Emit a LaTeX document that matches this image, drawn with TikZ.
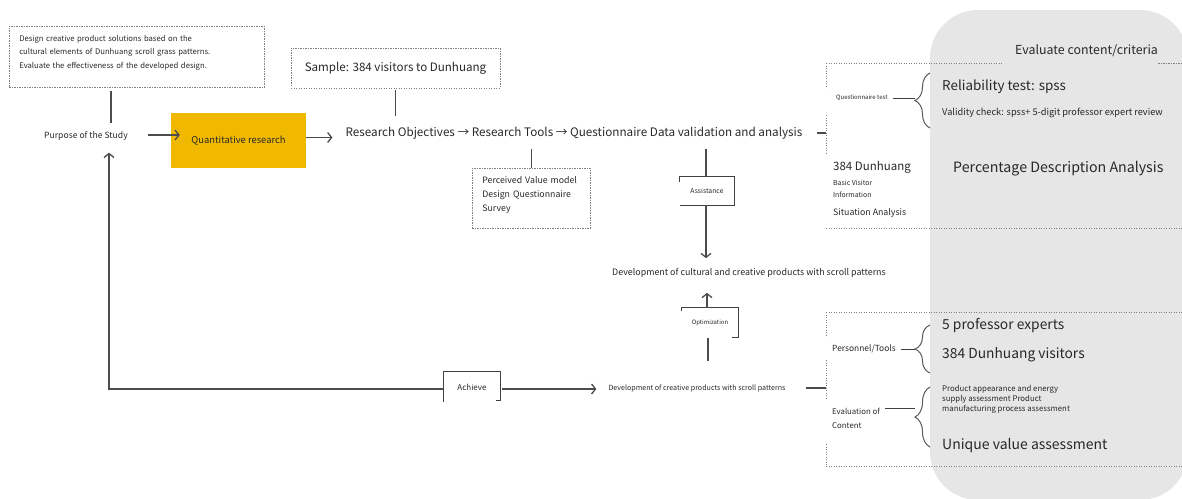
\documentclass[tikz,border=0pt]{standalone}
\usepackage{fontspec}
\setmainfont{Noto Sans CJK SC}
\usetikzlibrary{arrows.meta,calc,positioning,decorations.pathreplacing}
\definecolor{gold}{RGB}{240,185,0}
\definecolor{panel}{RGB}{230,230,230}
\definecolor{ink}{RGB}{40,40,40}
\newcommand{\fsz}[2]{\fontsize{#1}{#2}\selectfont}
\tikzset{
  >={Straight Barb[length=4pt,width=10pt]},
  dashbox/.style={draw=black!50, dash pattern=on 1.4pt off 1.1pt, line width=0.6pt},
  line/.style={draw=black!70, line width=1.3pt},
  edge/.style={draw=black!75, line width=0.9pt},
  brace/.style={draw=black!65, line width=1pt, decorate, decoration={brace,amplitude=15pt}},
  lbl/.style={text=ink, inner sep=0pt, align=left}
}

\begin{document}
\begin{tikzpicture}[x=1pt,y=-1pt]
    \useasboundingbox (0,0) rectangle (1182,498);
    % Grey panel
    \fill[panel, rounded corners=48pt] (930,10) rectangle (1188,500);

    % Left part
    \node[dashbox, lbl, anchor=north west, text width=235pt, minimum height=61pt,
          inner xsep=10pt, inner ysep=4pt, font=\fsz{7.7}{13.5}] (aim) at (9,26)
          {Design creative product solutions based on the\\
           cultural elements of Dunhuang scroll grass patterns.\\
           Evaluate the effectiveness of the developed design.\par\vspace{8pt}};
    \node[lbl, font=\fsz{8.6}{10}] (purpose) at (86,136) {Purpose of the Study};
    \node[fill=gold, minimum width=135pt, minimum height=55pt, inner sep=0pt,
          text=ink, font=\fsz{9.4}{11}] (quant) at (238.5,140.5) {Quantitative research};
    \node[dashbox, minimum width=209pt, minimum height=40pt, inner sep=0pt,
          text=ink, font=\fsz{11.6}{13}] (sample) at (395.5,68) {Sample: 384 visitors to Dunhuang};
    \node[lbl, font=\fsz{11.7}{13}] (goal) at (574,133)
          {Research Objectives → Research Tools → Questionnaire Data validation and analysis};
    \node[dashbox, lbl, anchor=north west, text width=98pt, minimum height=60pt,
          inner xsep=10pt, inner ysep=4pt, font=\fsz{8.8}{14}] (model) at (472,168)
          {Perceived Value model\\ Design Questionnaire\\Survey\par\vspace{6pt}};

    % Middle part
    \node[minimum width=54pt, minimum height=28pt, inner sep=0pt,
          text=ink, font=\fsz{6.8}{8}] (assist) at (707,191) {Assistance};
    \node[lbl, font=\fsz{8.9}{10}] (devcult) at (749,273)
          {Development of cultural and creative products with scroll patterns};
    \node[minimum width=56pt, minimum height=29pt, inner sep=0pt,
          text=ink, font=\fsz{6}{7}] (optim) at (710,322.5) {Optimization};
    \node[lbl, font=\fsz{7.1}{8}] (devcre) at (697,388)
          {Development of creative products with scroll patterns};
    \node[minimum width=57pt, minimum height=30pt, inner sep=0pt,
          text=ink, font=\fsz{8}{9}] (achieve) at (472,387) {Achieve};

    % Open box outlines
    \draw[edge] ([yshift=-5pt]assist.north west) |- (assist.north east) |- (assist.south west);
    \draw[edge] ([yshift=-3pt]optim.north west) |- (optim.north east) |- ([xshift=-6pt]optim.south east);
    \draw[edge] (achieve.south west) |- (achieve.north east) -- ([yshift=2pt]achieve.south east)
                -- ([xshift=-5pt,yshift=2pt]achieve.south east);

    % Right part, upper block
    \node[minimum width=356pt, minimum height=165pt, inner sep=0pt, anchor=north west] (upper) at (826,63) {};
    \node[lbl, font=\fsz{12.4}{14}, anchor=west] (crit) at (1015,51) {Evaluate content/criteria};
    \node[lbl, font=\fsz{6}{7}, anchor=west] (qtest) at (836,98) {Questionnaire test};
    \node[lbl, font=\fsz{13.4}{15}, anchor=west] (rel) at (942,87) {Reliability test: spss};
    \node[lbl, font=\fsz{9.2}{11}, anchor=west] (val) at (942,113)
          {Validity check: spss+ 5-digit professor expert review};
    \node[lbl, font=\fsz{11.5}{13}, anchor=west] (visit) at (833,167) {384 Dunhuang};
    \node[lbl, font=\fsz{6.9}{12}, anchor=north west] (basic) at (833,180) {Basic Visitor\\Information};
    \node[lbl, font=\fsz{8.8}{10}, anchor=west] (situ) at (833,213) {Situation Analysis};
    \node[lbl, font=\fsz{14.2}{16}, anchor=west] (pct) at (953,169) {Percentage Description Analysis};
    \draw[dashbox] (upper.north west) -- ([xshift=-12pt]upper.north west -| crit.west);
    \draw[dashbox] (upper.north -| crit.east) -- (upper.north east);
    \draw[dashbox] (upper.north west) -- ([yshift=-25pt]upper.north west);
    \draw[dashbox] ([yshift=-52pt]upper.north west) -- ([yshift=-90pt]upper.north west);
    \draw[dashbox] (upper.south west) -- (upper.south east);
    \draw[brace] (930,128) -- (930,73);

    % Right part, lower block
    \node[minimum width=356pt, minimum height=154pt, inner sep=0pt, anchor=north west] (lower) at (826,312) {};
    \node[lbl, font=\fsz{8.4}{10}, anchor=west] (staff) at (832,349) {Personnel/Tools};
    \node[lbl, font=\fsz{13.8}{15}, anchor=west] (prof) at (942,325) {5 professor experts};
    \node[lbl, font=\fsz{13.8}{15}, anchor=west] (tour) at (942,355) {384 Dunhuang visitors};
    \node[lbl, font=\fsz{7.8}{14}, anchor=west] (evalc) at (832,418.5) {Evaluation of\\Content};
    \node[lbl, font=\fsz{7.8}{10}, anchor=west] (look) at (942,399.5)
          {Product appearance and energy\\supply assessment Product\\manufacturing process assessment};
    \node[lbl, font=\fsz{14}{16}, anchor=west] (uniq) at (942,446) {Unique value assessment};
    \draw[dashbox] (lower.north west) -- (lower.north east);
    \draw[dashbox] (lower.north west) -- ([yshift=-25pt]lower.north west);
    \draw[dashbox] ([yshift=-48pt]lower.north west) -- ([yshift=-86pt]lower.north west);
    \draw[dashbox] ([yshift=-132pt]lower.north west) -- (lower.south west);
    \draw[dashbox] (lower.south west) -- (lower.south east);
    \draw[brace] (930,373) -- (930,325);
    \draw[brace] (930,447) -- (930,387);

    % Connectors
    \coordinate (tx) at (111,0);
    \coordinate (bx) at (109,0);
    \draw[line, shorten <=3pt, shorten >=8pt] (aim.south -| tx) -- (purpose.north -| tx);
    \draw[line, ->, shorten <=20pt, shorten >=-9pt] ([yshift=1pt]purpose.east) -- ([yshift=1pt]purpose.east -| quant.west);
    \draw[line, ->, shorten >=13pt] ([yshift=3pt]quant.east) -- ([yshift=3pt]quant.east -| goal.west);
    \draw[line, shorten <=2pt, shorten >=11pt] (sample.south) -- (sample.south |- goal.north);
    \draw[line, shorten <=10pt] (model.north |- goal.south) -- (model.north);
    \draw[line, shorten <=10pt] ([xshift=-1pt]assist.north |- goal.south) -- ([xshift=-1pt]assist.north);
    \draw[line, ->, shorten >=10pt] ([xshift=-1pt]assist.south) -- ([xshift=-1pt]assist.south |- devcult.north);
    \draw[line, ->, shorten >=15pt] ([xshift=-3pt]optim.north) -- ([xshift=-3pt]optim.north |- devcult.south);
    \draw[line, shorten <=1pt, shorten >=23pt] ([xshift=-2pt]optim.south) -- ([xshift=-2pt]optim.south |- devcre.north);
    \draw[line, ->, shorten <=1pt, shorten >=12pt] ([yshift=-2pt]achieve.east) -- ([yshift=-2pt]achieve.east -| devcre.west);
    \draw[line, ->, shorten >=12pt] ([yshift=-2pt]achieve.west) -| (purpose.south -| bx);
    \draw[line, shorten <=14pt] (goal.east) -- (goal.east -| upper.west);
    \draw[line, shorten <=20pt] (devcre.east) -- (devcre.east -| lower.west);
    \draw[edge, shorten <=5pt, shorten >=27pt] (qtest.east) -- (qtest.east -| rel.west);
    \draw[edge, shorten <=5pt, shorten >=27pt] (staff.east) -- (staff.east -| prof.west);
    \draw[edge, shorten <=5pt, shorten >=27pt] ([yshift=10pt]evalc.east) -- ([yshift=10pt]evalc.east -| look.west);

\end{tikzpicture}
\end{document}
